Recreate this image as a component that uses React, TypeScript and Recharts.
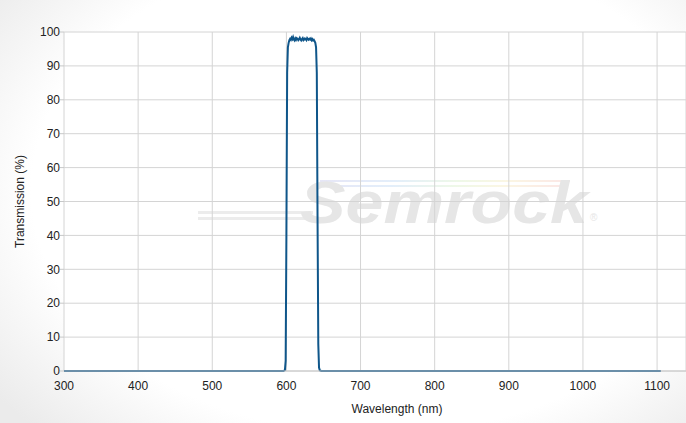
import { CartesianGrid, Line, LineChart, XAxis, YAxis, Label } from "recharts";

// wavelength samples (nm)
const wavelengths = [
  300, 400, 500, 580, 590, 596, 598, 599, 600, 601, 602, 603, 604, 605, 606,
  607, 608, 609, 610, 611, 612, 613, 614, 615, 616, 617, 618, 619, 620, 621,
  622, 623, 624, 625, 626, 627, 628, 629, 630, 631, 632, 633, 634, 635, 636,
  637, 638, 639, 640, 641, 642, 643, 644, 645, 647, 650, 660, 700, 800, 900,
  1000, 1100, 1105,
];

// transmission (%)
const transmission = [
  0, 0, 0, 0, 0, 0, 0.3, 3, 40, 88, 95.5, 96.8, 97.6, 98.0, 97.7, 98.3, 97.9,
  98.5, 97.8, 97.5, 98.1, 97.7, 98.2, 98.0, 97.6, 97.9, 98.3, 97.8, 97.5, 97.9,
  98.2, 97.6, 97.8, 98.1, 97.9, 97.6, 98.2, 97.9, 97.7, 98.0, 97.8, 98.1, 97.6,
  97.9, 97.5, 97.7, 97.3, 96.8, 95.5, 88, 45, 8, 1, 0.2, 0, 0, 0, 0, 0, 0, 0,
  0, 0,
];

const xTicks = [300, 400, 500, 600, 700, 800, 900, 1000, 1100];
const yTicks = [0, 10, 20, 30, 40, 50, 60, 70, 80, 90, 100];

const data = wavelengths.map((w, i) => ({ w, t: transmission[i] }));

const font = "'Liberation Sans', Arial, sans-serif";

export default function App() {
  return (
    <div
      style={{
        position: "absolute",
        left: 0,
        top: 0,
        width: 686,
        height: 423,
        background:
          "radial-gradient(ellipse 70% 80% at 55% 45%, #ffffff 72%, #ebebeb 100%)",
        fontFamily: font,
      }}
    >
      <svg
        width={686}
        height={423}
        style={{ position: "absolute", left: 0, top: 0 }}
      >
        <defs>
          <linearGradient id="rb" x1="0" x2="1" y1="0" y2="0">
            <stop offset="0%" stopColor="#e6e6f6" />
            <stop offset="30%" stopColor="#e3eefa" />
            <stop offset="55%" stopColor="#eef8e8" />
            <stop offset="75%" stopColor="#fbf6e3" />
            <stop offset="100%" stopColor="#fbe6e6" />
          </linearGradient>
        </defs>
        <rect x={64} y={32} width={622} height={339} fill="#ffffff" />
        <rect x={320} y={180} width={250} height={2} fill="url(#rb)" />
        <rect x={316} y={185} width={250} height={2} fill="url(#rb)" />
        <rect x={198} y={211} width={115} height={3} fill="#ececec" />
        <rect x={198} y={217} width={110} height={3} fill="#ececec" />
        <text
          x={300}
          y={223}
          fontFamily={font}
          fontStyle="italic"
          fontWeight="bold"
          fontSize={60}
          fill="#e6e6e6"
          textLength={288}
          lengthAdjust="spacingAndGlyphs"
        >
          Semrock
        </text>
        <text x={590} y={221} fontFamily={font} fontSize={10} fill="#e6e6e6">
          ®
        </text>
      </svg>
      <div style={{ position: "absolute", left: 0, top: 0 }}>
        <LineChart
          width={686}
          height={423}
          data={data}
          margin={{ top: 32, right: 0, bottom: 0, left: 0 }}
        >
          <CartesianGrid stroke="#d4d4d4" strokeWidth={1} />
          <XAxis
            dataKey="w"
            type="number"
            domain={[300, 1139]}
            ticks={xTicks}
            interval={0}
            height={52}
            stroke="#c8c8c8"
            tickLine={false}
            tick={{ fill: "#222", fontSize: 12, fontFamily: font }}
            tickMargin={4}
          >
            <Label
              value="Wavelength (nm)"
              position="insideBottom"
              offset={10}
              dx={22}
              style={{ fill: "#222", fontSize: 12, fontFamily: font }}
            />
          </XAxis>
          <YAxis
            type="number"
            domain={[0, 100]}
            ticks={yTicks}
            interval={0}
            width={64}
            axisLine={false}
            tickLine={{ stroke: "#c8c8c8" }}
            tickSize={4}
            tick={{ fill: "#222", fontSize: 12, fontFamily: font }}
            tickMargin={0}
          >
            <Label
              value="Transmission (%)"
              angle={-90}
              position="insideLeft"
              offset={20}
              style={{
                fill: "#222",
                fontSize: 12,
                fontFamily: font,
                textAnchor: "middle",
              }}
            />
          </YAxis>
          <Line
            type="linear"
            dataKey="t"
            stroke="#0f568a"
            strokeWidth={2}
            dot={false}
            isAnimationActive={false}
          />
        </LineChart>
      </div>
    </div>
  );
}
